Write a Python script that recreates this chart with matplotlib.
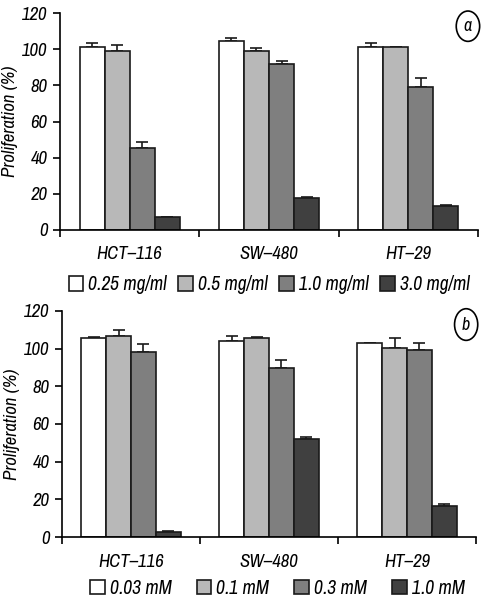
import matplotlib
matplotlib.use('Agg')
import matplotlib.pyplot as plt
from matplotlib import font_manager
from matplotlib.patches import Ellipse
import numpy as np

names = sorted({f.name for f in font_manager.fontManager.ttflist})
narrow = [n for n in names if 'Narrow' in n or 'Condensed' in n]
fam = narrow[0] if narrow else 'Roboto'
plt.rcParams['font.family'] = [fam, 'DejaVu Sans']
plt.rcParams['font.style'] = 'italic'

cell_lines = ['HCT\u2013116', 'SW\u2013480', 'HT\u201329']
colors = ['#ffffff', '#b8b8b8', '#7f7f7f', '#404040']

# panel a: extract concentrations
labels_a = ['0.25 mg/ml', '0.5 mg/ml', '1.0 mg/ml', '3.0 mg/ml']
vals_a = [[101, 104.5, 101],
          [99, 99, 101],
          [45.5, 92, 79],
          [7, 17.5, 13]]
errs_a = [[2.5, 1.5, 2.5],
          [3.5, 1.5, 0.5],
          [3, 1.5, 5],
          [0, 0.8, 0.8]]

# panel b: compound concentrations
labels_b = ['0.03 mM', '0.1 mM', '0.3 mM', '1.0 mM']
vals_b = [[105.7, 104.2, 103.2],
          [106.7, 105.7, 100.5],
          [98.2, 89.9, 99.1],
          [2.7, 52.2, 16.6]]
errs_b = [[0.7, 2.5, 0],
          [3.2, 0.7, 5.3],
          [4.3, 4.1, 4.1],
          [0.7, 0.7, 0.9]]

fig = plt.figure(figsize=(4.86, 6.0), dpi=100)
ax_a = fig.add_axes([0.1235, 0.617, 0.86, 0.361])
ax_b = fig.add_axes([0.1276, 0.105, 0.852, 0.3767])


def draw_panel(ax, vals, errs, labels, tag, leg_y, leg_x, colsp):
    x = np.arange(len(cell_lines))
    w = 0.18
    for i in range(4):
        pos = x + (i - 1.5) * w
        ax.bar(pos, vals[i], w, color=colors[i], edgecolor='#1a1a1a',
               linewidth=1.2, label=labels[i], zorder=2)
        ax.errorbar(pos, vals[i], yerr=[np.zeros(3), errs[i]], fmt='none',
                    ecolor='#1a1a1a', elinewidth=1.2, capsize=4, capthick=1.2,
                    zorder=1)
    ax.set_xlim(-0.5, 2.5)
    ax.set_ylim(0, 120)
    ax.set_yticks(range(0, 121, 20))
    ax.set_xticks([-0.5, 0.5, 1.5, 2.5])
    ax.set_xticklabels([])
    ax.set_xticks(x, minor=True)
    ax.set_xticklabels(cell_lines, minor=True, fontsize=13.5)
    ax.tick_params(axis='x', which='minor', length=0, pad=12)
    ax.tick_params(axis='x', which='major', length=5, width=1.2, direction='out')
    ax.tick_params(axis='y', length=5, width=1.2, labelsize=13.5, pad=4)
    for s in ['top', 'right']:
        ax.spines[s].set_visible(False)
    for s in ['left', 'bottom']:
        ax.spines[s].set_linewidth(1.2)
    ax.set_ylabel('Proliferation (%)', fontsize=13.5, labelpad=3)
    ax.legend(loc='upper center', bbox_to_anchor=(leg_x, leg_y), ncol=4,
              frameon=False, fontsize=14, handlelength=0.75, handleheight=0.75,
              handletextpad=0.25, columnspacing=colsp, borderaxespad=0,
              borderpad=0)
    ax.add_patch(Ellipse((0.976, 0.94), 0.056, 0.14, transform=ax.transAxes,
                         facecolor='white', edgecolor='black', linewidth=1.2,
                         clip_on=False))
    ax.text(0.976, 0.94, tag, transform=ax.transAxes, ha='center',
            va='center', fontsize=13)


draw_panel(ax_a, vals_a, errs_a, labels_a, 'a', -0.21, 0.50, 0.6)
draw_panel(ax_b, vals_b, errs_b, labels_b, 'b', -0.185, 0.52, 1.3)

fig.savefig('out.png', dpi=100, facecolor='white')
